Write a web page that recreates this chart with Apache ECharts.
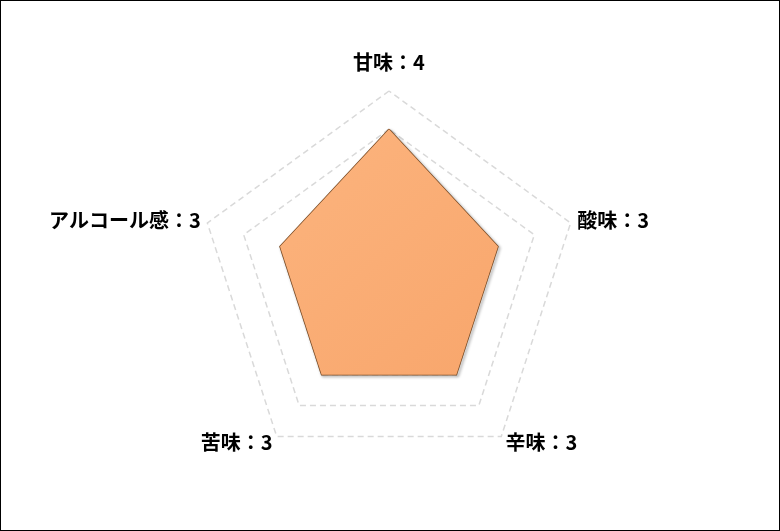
<!DOCTYPE html>
<html>
<head>
<meta charset="utf-8">
<script src="https://cdn.jsdelivr.net/npm/echarts@6/dist/echarts.min.js"></script>
<style>
  html, body { margin: 0; padding: 0; background: #fff; }
  #main { width: 778px; height: 529px; border: 1px solid #000; }
</style>
</head>
<body>
<div id="main"></div>
<script>
// indicators go counter-clockwise from the top in ECharts
const names = ["甘味", "アルコール感", "苦味", "辛味", "酸味"];
const values = [4, 3, 3, 3, 3];
const maxValue = 5;

var chart = echarts.init(document.getElementById("main"));
var option = {
  animation: false,
  radar: {
    center: [388, 281],
    radius: 191,
    startAngle: 90,
    splitNumber: 5,
    shape: "polygon",
    nameGap: 7,
    indicator: names.map((n) => ({ name: n, max: maxValue, min: 0 })),
    axisName: {
      color: "#000",
      fontSize: 20,
      fontWeight: "bold",
      fontFamily: "Noto Sans CJK JP",
      formatter: (n) => {
        var i = names.indexOf(n);
        var s = n + "：" + values[i];
        return i === 0 ? "{top|" + s + "}" : s;
      },
      rich: {
        top: {
          color: "#000",
          fontSize: 20,
          fontWeight: "bold",
          fontFamily: "Noto Sans CJK JP",
          padding: [0, 0, 12, 0],
        },
      },
    },
    axisLine: { show: false },
    axisTick: { show: false },
    splitArea: { show: false },
    splitLine: {
      lineStyle: { color: "#d9d9d9", width: 1.5, type: [6, 4] },
    },
  },
  series: [
    {
      type: "radar",
      symbol: "none",
      data: [
        {
          value: values,
          lineStyle: {
            color: "#7a4a22",
            width: 1.5,
            shadowColor: "rgba(0,0,0,0.45)",
            shadowBlur: 3,
            shadowOffsetX: 1.5,
            shadowOffsetY: 1.5,
          },
          areaStyle: {
            opacity: 1,
            color: {
              type: "linear",
              x: 0, y: 0, x2: 1, y2: 1,
              colorStops: [
                { offset: 0, color: "#fcb47e" },
                { offset: 1, color: "#f8a66c" },
              ],
            },
          },
        },
      ],
    },
  ],
};
chart.setOption(option);
</script>
</body>
</html>
